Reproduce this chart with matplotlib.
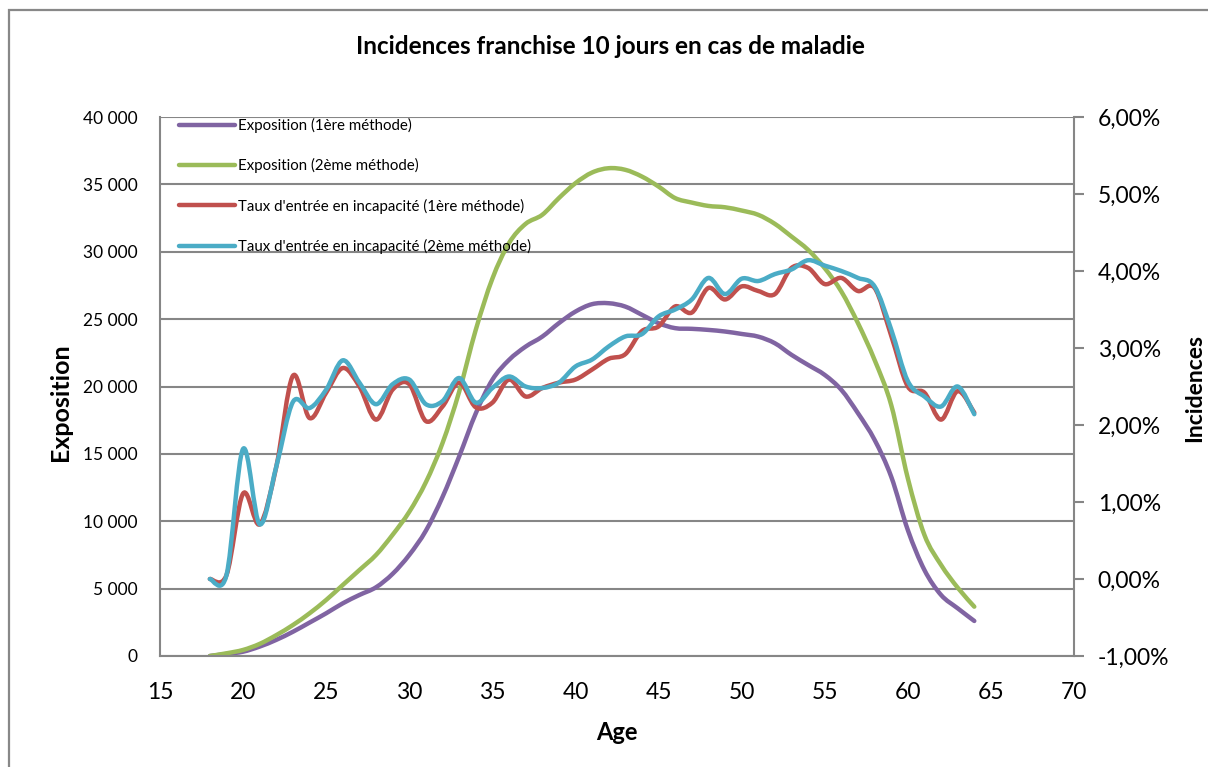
import matplotlib
matplotlib.use("Agg")
import matplotlib.pyplot as plt
from matplotlib.path import Path
from matplotlib.patches import PathPatch
from matplotlib.lines import Line2D
from matplotlib.ticker import FuncFormatter

plt.rcParams['font.family'] = ['Lato', 'DejaVu Sans']

# ---------------- data ----------------
ages = list(range(18, 65))

expo_1 = [0, 150, 320, 700, 1200, 1800, 2480, 3170, 3910, 4530,
          5100, 6100, 7500, 9300, 11800, 14800, 18000, 20500, 21970, 22960,
          23700, 24700, 25560, 26110, 26180, 25930, 25320, 24700, 24330, 24280,
          24200, 24080, 23900, 23700, 23210, 22350, 21600, 20860, 19750, 18020,
          16040, 13310, 9350, 6380, 4530, 3540, 2600]

expo_2 = [0, 200, 450, 900, 1550, 2300, 3170, 4160, 5270, 6380,
          7500, 9000, 10700, 12900, 15800, 19600, 24200, 28000, 30640, 32070,
          32740, 33980, 35090, 35880, 36200, 36080, 35580, 34840, 33980, 33650,
          33400, 33300, 33060, 32740, 32070, 31130, 30140, 28780, 27050, 24700,
          21970, 18630, 13190, 8980, 6760, 5070, 3660]

taux_1 = [0.00, 0.05, 1.11, 0.71, 1.46, 2.64, 2.09, 2.42, 2.74, 2.50,
          2.07, 2.46, 2.53, 2.05, 2.24, 2.55, 2.23, 2.29, 2.59, 2.37,
          2.48, 2.55, 2.59, 2.72, 2.86, 2.92, 3.22, 3.28, 3.54, 3.46,
          3.78, 3.63, 3.80, 3.74, 3.70, 4.04, 4.04, 3.83, 3.91, 3.74,
          3.78, 3.16, 2.50, 2.42, 2.07, 2.44, 2.16]

taux_2 = [0.00, 0.05, 1.69, 0.71, 1.46, 2.30, 2.22, 2.46, 2.84, 2.55,
          2.27, 2.53, 2.59, 2.27, 2.31, 2.61, 2.29, 2.48, 2.63, 2.50,
          2.48, 2.55, 2.76, 2.85, 3.02, 3.15, 3.18, 3.41, 3.50, 3.63,
          3.91, 3.70, 3.90, 3.87, 3.96, 4.02, 4.14, 4.07, 4.00, 3.91,
          3.80, 3.24, 2.57, 2.37, 2.24, 2.50, 2.14]

labels = ["Exposition (1ère méthode)", "Exposition (2ème méthode)",
          "Taux d'entrée en incapacité (1ère méthode)",
          "Taux d'entrée en incapacité (2ème méthode)"]
colors = ["#8064A2", "#9BBB59", "#C0504D", "#4BACC6"]

title = "Incidences franchise 10 jours en cas de maladie"
left_ticks = [0, 5000, 10000, 15000, 20000, 25000, 30000, 35000, 40000]
right_ticks = [-1, 0, 1, 2, 3, 4, 5, 6]
x_ticks = [15, 20, 25, 30, 35, 40, 45, 50, 55, 60, 65, 70]


def smooth_path(xs, ys):
    """Excel-like smoothed line: cubic Bezier segments through the points."""
    pts = list(zip(xs, ys))
    n = len(pts)
    verts = [pts[0]]
    codes = [Path.MOVETO]
    for i in range(n - 1):
        p0 = pts[i - 1] if i > 0 else pts[i]
        p1 = pts[i]
        p2 = pts[i + 1]
        p3 = pts[i + 2] if i + 2 < n else pts[i + 1]
        c1 = (p1[0] + (p2[0] - p0[0]) / 6.0, p1[1] + (p2[1] - p0[1]) / 6.0)
        c2 = (p2[0] - (p3[0] - p1[0]) / 6.0, p2[1] - (p3[1] - p1[1]) / 6.0)
        verts += [c1, c2, p2]
        codes += [Path.CURVE4] * 3
    return Path(verts, codes)


W, H = 1208, 767
fig = plt.figure(figsize=(W / 100, H / 100), dpi=100)
fig.patch.set_facecolor("white")

# outer chart border
fig.add_artist(plt.Rectangle((9 / W, -0.05), 1.2, (H - 10) / H + 0.05,
                             transform=fig.transFigure, fill=False,
                             edgecolor="#888888", linewidth=1.6))

L, R, T, B = 160, 1074, 117, 656
ax = fig.add_axes([L / W, 1 - B / H, (R - L) / W, (B - T) / H])
ax2 = ax.twinx()

grey = "#868686"
ax.set_xlim(15, 70)
ax.set_ylim(0, 40000)
ax2.set_ylim(-1, 6)

ax.set_yticks(left_ticks)
ax.yaxis.set_major_formatter(FuncFormatter(lambda v, p: f"{int(v):,}".replace(",", " ")))
ax.set_xticks(x_ticks)
ax2.set_yticks(right_ticks)
ax2.yaxis.set_major_formatter(FuncFormatter(lambda v, p: f"{v:.2f}%".replace(".", ",")))

ax.grid(axis="y", color=grey, linewidth=1.5)
ax.set_axisbelow(True)
for a in (ax, ax2):
    for s in a.spines.values():
        s.set_visible(False)
ax.spines["left"].set_visible(True)
ax.spines["bottom"].set_visible(True)
ax2.spines["right"].set_visible(True)
for s in (ax.spines["left"], ax.spines["bottom"], ax2.spines["right"]):
    s.set_color(grey)
    s.set_linewidth(1.5)

ax.tick_params(axis="y", length=0, pad=16, labelsize=12.5, colors="black")
ax.tick_params(axis="x", length=0, pad=19, labelsize=16.5, colors="black")
ax2.tick_params(axis="y", length=7, width=1.5, color=grey, pad=10,
                labelsize=16.5, labelcolor="black")

lw = 3.2
for ys, c in ((expo_1, colors[0]), (expo_2, colors[1])):
    ax.add_patch(PathPatch(smooth_path(ages, ys), fill=False, edgecolor=c,
                           linewidth=lw, capstyle="round", joinstyle="round"))
for ys, c in ((taux_1, colors[2]), (taux_2, colors[3])):
    ax2.add_patch(PathPatch(smooth_path(ages, ys), fill=False, edgecolor=c,
                            linewidth=lw, capstyle="round", joinstyle="round"))

handles = [Line2D([0], [0], color=c, linewidth=lw, solid_capstyle="round")
           for c in colors]
leg = ax2.legend(handles, labels, loc="upper left",
                 bbox_to_anchor=(0.021, (B - 118) / (B - T)),
                 frameon=False, fontsize=10.8, handlelength=3.7,
                 handletextpad=0.25, labelspacing=1.68, borderpad=0,
                 borderaxespad=0)

fig.text(610 / W, 1 - 47 / H, title, ha="center", va="center",
         fontsize=17.5, fontweight="bold")
fig.text(61 / W, 1 - 402 / H, "Exposition", ha="center", va="center",
         rotation=90, fontsize=18, fontweight="bold")
fig.text(1195 / W, 1 - 388 / H, "Incidences", ha="center", va="center",
         rotation=90, fontsize=16.5, fontweight="bold")
fig.text(617 / W, 1 - 732 / H, "Age", ha="center", va="center",
         fontsize=17, fontweight="bold")

fig.savefig("out.png", dpi=100)
